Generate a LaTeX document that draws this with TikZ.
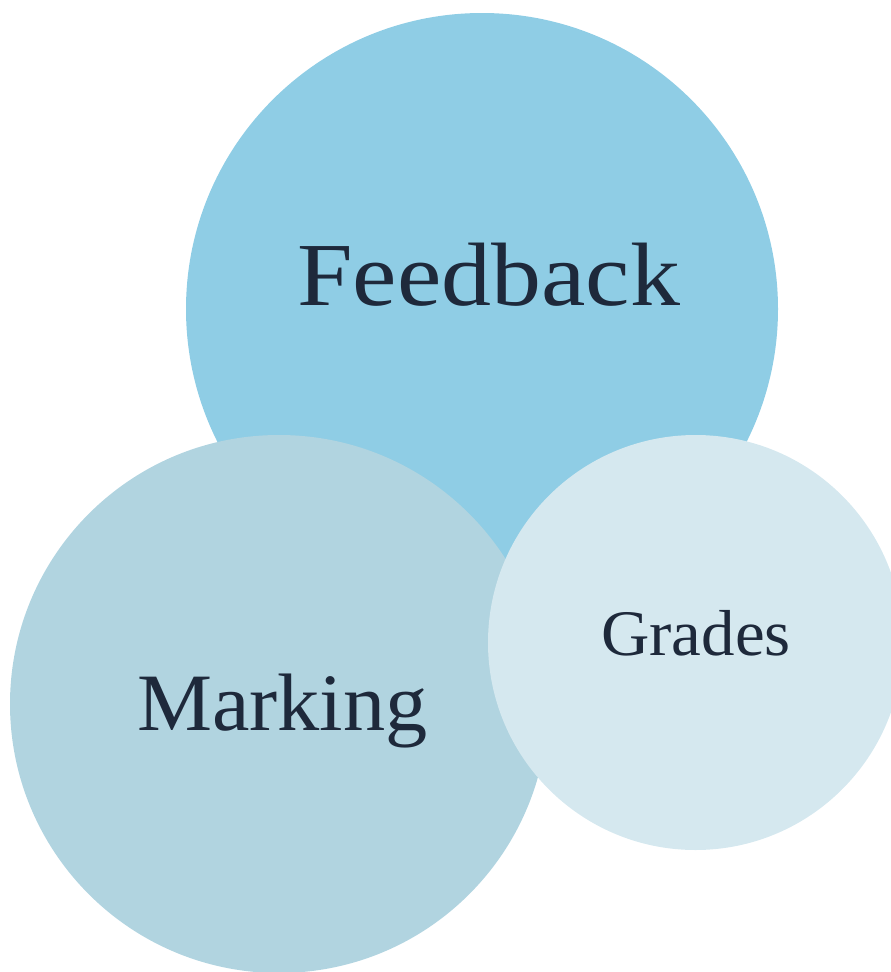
\documentclass[tikz,border=0pt]{standalone}
\usepackage{fontspec}
\setmainfont{Liberation Serif}
\definecolor{fbcol}{HTML}{8FCDE5}
\definecolor{mkcol}{HTML}{B1D4E0}
\definecolor{grcol}{HTML}{D5E8EF}
\definecolor{txtcol}{HTML}{1E293B}
\tikzset{
  bubble/.style={circle, inner sep=0pt, draw=none},
  label text/.style={inner sep=0pt, anchor=base west, text=txtcol}
}
\begin{document}
\begin{tikzpicture}[x=1pt,y=-1pt]
\useasboundingbox (0,0) rectangle (891,972);
\clip (0,0) rectangle (891,972);
\node[bubble, fill=fbcol, minimum size=592pt] (feedback) at (482,309) {};
\node[bubble, fill=mkcol, minimum size=538pt] (marking) at (279,704) {};
\node[bubble, fill=grcol, minimum size=415pt] (grades) at (695.5,642.5) {};
\node[label text] (tfeedback) at (297,305) {\fontsize{90}{90}\selectfont\scalebox{1.11}[1]{Feedback}};
\node[label text] (tmarking) at (137,730) {\fontsize{81.5}{82}\selectfont\scalebox{1.035}[1]{Marking}};
\node[label text] (tgrades) at (601,655) {\fontsize{65}{65}\selectfont\scalebox{1.03}[1]{Grades}};
\end{tikzpicture}
\end{document}
